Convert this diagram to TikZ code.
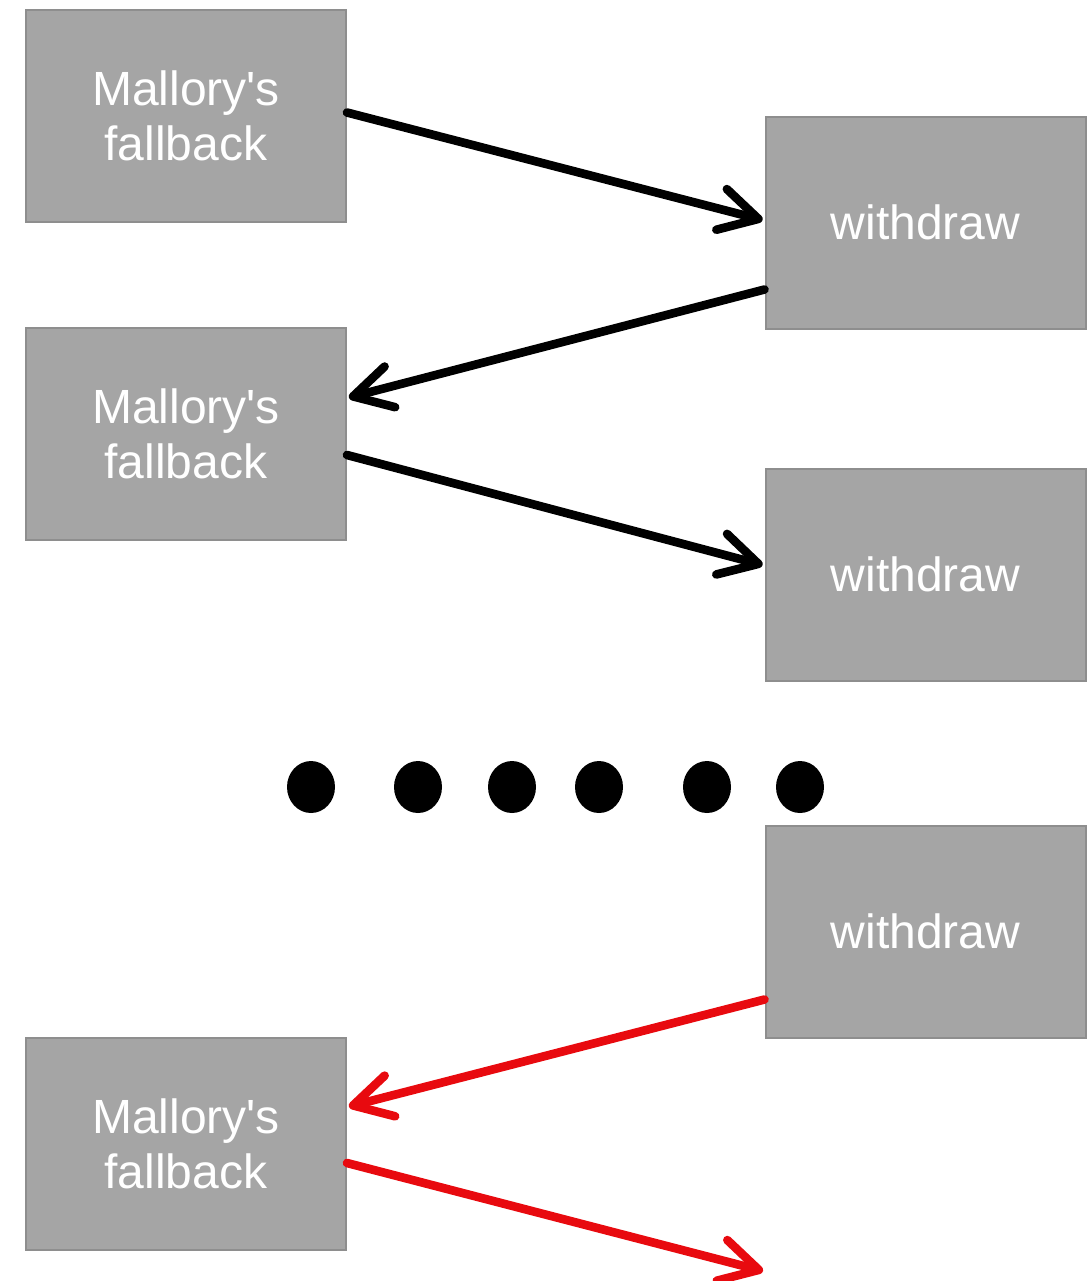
\documentclass[tikz,border=0pt]{standalone}
\usepackage{fontspec}
\setmainfont{Liberation Sans}
\usetikzlibrary{arrows.meta,calc,shapes.geometric}
\definecolor{boxfill}{HTML}{A5A5A5}
\definecolor{boxedge}{HTML}{8E8E8E}
\definecolor{attack}{HTML}{E80A0F}
\newcommand{\malloryfb}{Mallory\textquotesingle s\\fallback}
\tikzset{
  stepbox/.style={draw=boxedge, fill=boxfill, line width=1pt, inner sep=0pt,
    minimum width=160pt, minimum height=106pt, text=white, align=center,
    font=\fontsize{24pt}{27.5pt}\selectfont},
  flow/.style={line width=4.3pt, line cap=round,
    -{Straight Barb[length=19pt,width=21pt,round]}, shorten >=1pt},
  blackflow/.style={flow, draw=black},
  redflow/.style={flow, draw=attack},
  dot/.style={fill=black, draw=none, ellipse, minimum width=24pt, minimum height=26pt, inner sep=0pt}
}
\begin{document}
\begin{tikzpicture}[x=0.5pt,y=-0.5pt]
  \useasboundingbox (0,0) rectangle (1091,1281);

  % fallback boxes on the left
  \node[stepbox] (L1) at (186,115.5) {\malloryfb};
  \node[stepbox] (L2) at (186,434) {\malloryfb};
  \node[stepbox] (L3) at (186,1144) {\malloryfb};

  % withdraw boxes on the right
  \node[stepbox] (R1) at (925.5,222.5) {withdraw};
  \node[stepbox] (R2) at (925.5,574.5) {withdraw};
  \node[stepbox] (R3) at (925.5,931.5) {withdraw};

  % repeating calls
  \draw[blackflow] ($(L1.east)+(0,-3)$) -- ($(R1.west)+(0,-2)$);
  \draw[blackflow] ($(R1.west)+(0,67)$) -- ($(L2.east)+(0,-36)$);
  \draw[blackflow] ($(L2.east)+(0,21)$) -- ($(R2.west)+(0,-9)$);

  % ellipsis
  \foreach \x [count=\i] in {311,418,512,599,707,800}
    \node[dot] (d\i) at (\x,787) {};

  % last round of the attack
  \coordinate (tail) at (763,1271);
  \draw[redflow] ($(R3.west)+(0,68)$) -- ($(L3.east)+(0,-37)$);
  \draw[redflow, shorten >=0pt] ($(L3.east)+(0,19)$) -- (tail);
\end{tikzpicture}
\end{document}
